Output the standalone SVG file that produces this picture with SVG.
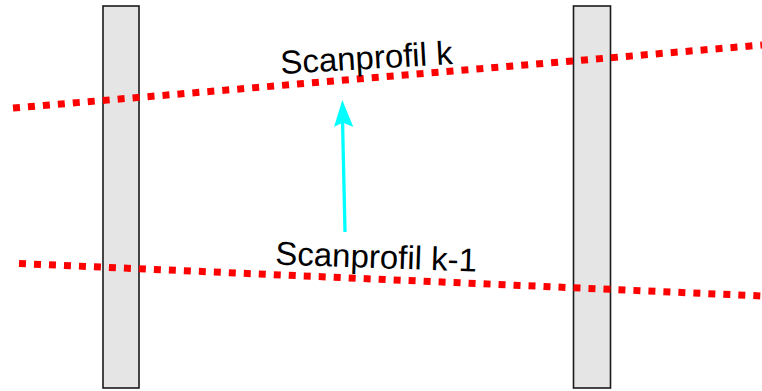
<svg xmlns="http://www.w3.org/2000/svg" width="762" height="391" viewBox="0 0 762 391">
<style>
.post{fill:#e5e5e5;stroke:#1a1a1a;stroke-width:1.6}
.scan{fill:none;stroke:#ff0000;stroke-width:7;stroke-dasharray:7 8}
.lbl{font-family:"Liberation Sans",Arial,sans-serif;font-size:33px;fill:#000}
</style>
<g id="post-left"><rect class="post" x="103" y="6" width="36" height="382"/></g>
<g id="post-right"><rect class="post" x="573.5" y="6" width="37" height="382"/></g>
<g id="connectors">
<line class="scan" x1="13" y1="108" x2="762" y2="45"/>
<line class="scan" x1="19" y1="263.5" x2="762" y2="296"/>
<line x1="345" y1="232" x2="342.5" y2="120" stroke="#00ffff" stroke-width="3.3"/>
<path d="M342.3 100 L353.3 127 L342.6 122.5 L334 127 Z" fill="#00ffff"/>
</g>
<g id="label-k"><text class="lbl" x="281" y="74" transform="rotate(-3.3 281 74)">Scanprofil k</text></g>
<g id="label-k1"><text class="lbl" x="275" y="264.5" transform="rotate(2 275 264.5)">Scanprofil k-1</text></g>
</svg>
